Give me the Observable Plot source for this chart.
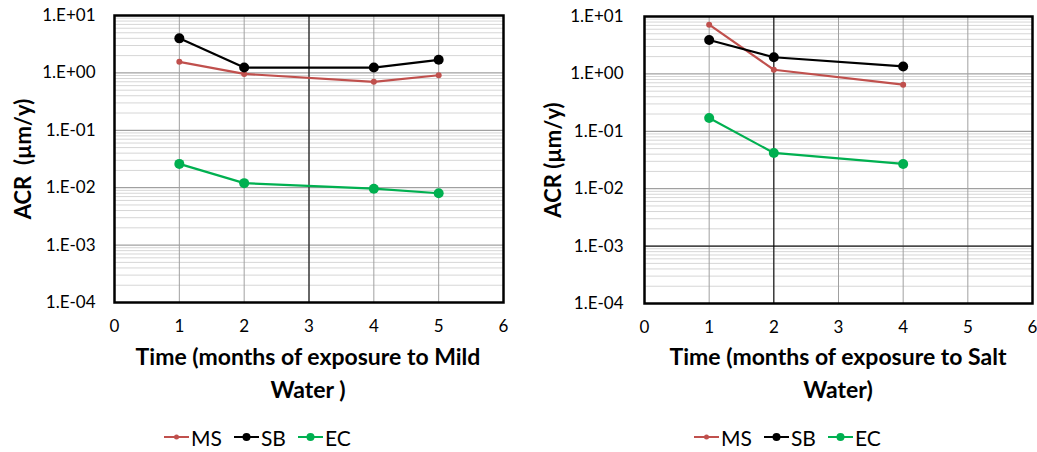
<!DOCTYPE html>
<html><head><meta charset="utf-8">
<script src="https://cdn.jsdelivr.net/npm/d3@7"></script>
<script src="https://cdn.jsdelivr.net/npm/@observablehq/plot@0.6"></script>
<style>
body{margin:0;background:#fff;font-family:Lato,"Open Sans",sans-serif;}
#wrap{position:relative;width:1037px;height:452px;overflow:hidden;}
.panel{position:absolute;top:0;overflow:visible;}
.xtitle{position:absolute;width:460px;font-weight:bold;font-size:23px;text-align:center;line-height:33px;color:#000;white-space:nowrap;}
.legend{position:absolute;display:flex;align-items:center;font-size:21px;color:#000;height:26px;}
.legend .item{display:flex;align-items:center;margin-right:12px;}
.legend svg{margin-right:2px;}
</style>
</head><body>
<div id="wrap"></div>
<script>
// ---- data ----
const seriesNames = ["MS", "SB", "EC"];
const seriesColors = ["#C0504D", "#000000", "#00B050"];
const seriesRadius = [3, 5, 5];

const mildMonths = [1, 2, 4, 5];
const mildMS = [1.56, 0.96, 0.70, 0.91];
const mildSB = [4.0, 1.24, 1.24, 1.69];
const mildEC = [0.026, 0.012, 0.0096, 0.008];

const saltMonths = [1, 2, 4];
const saltMS = [7.2, 1.18, 0.65];
const saltSB = [3.9, 1.95, 1.35];
const saltEC = [0.17, 0.042, 0.027];

const xTicks = [0, 1, 2, 3, 4, 5, 6];
const yTicks = [1e-4, 1e-3, 1e-2, 1e-1, 1, 10];
const yTickLabels = ["1.E-04", "1.E-03", "1.E-02", "1.E-01", "1.E+00", "1.E+01"];
const minorMultipliers = [2, 3, 4, 5, 6, 7, 8, 9];

const mildYLabel = "ACR  (µm/y)";
const saltYLabel = "ACR (µm/y)";
const mildTitle = ["Time (months of exposure to Mild", "Water )"];
const saltTitle = ["Time (months of exposure to Salt", "Water)"];

// ---- build ----
const minorTicks = [];
yTicks.slice(0, -1).forEach(d => minorMultipliers.forEach(m => minorTicks.push(d * m)));

function table(months, ms, sb, ec) {
  const rows = [];
  [ms, sb, ec].forEach((arr, k) => arr.forEach((v, i) => rows.push({series: seriesNames[k], month: months[i], value: v})));
  return rows;
}

function panel(rows, opts) {
  const marks = [
    Plot.ruleY(minorTicks, {stroke: "#d6d6d6", strokeWidth: 1}),
    Plot.ruleY(yTicks, {stroke: "#8a8a8a", strokeWidth: 1}),
    Plot.ruleX(xTicks, {stroke: "#a0a0a0", strokeWidth: 1}),
    Plot.ruleX(opts.darkX, {stroke: "#000", strokeWidth: 1}),
    Plot.ruleY(opts.darkY, {stroke: "#000", strokeWidth: 1}),
    Plot.frame({stroke: "#000", strokeWidth: 2.5}),
    Plot.axisX({ticks: xTicks, tickFormat: d => String(d), tickSize: 0, tickPadding: 17, label: null, fontSize: 17}),
    Plot.axisY({ticks: yTicks, tickFormat: d => yTickLabels[yTicks.indexOf(d)], tickSize: 0, tickPadding: opts.pad, label: null, fontSize: 17}),
    Plot.text([opts.yLabel], {frameAnchor: "left", textAnchor: "middle", lineAnchor: "middle", rotate: -90, dx: -91, fontWeight: "bold", fontSize: 22, fill: "#000"})
  ];
  seriesNames.forEach((s, k) => {
    const data = rows.filter(r => r.series === s);
    marks.push(Plot.line(data, {x: "month", y: "value", stroke: seriesColors[k], strokeWidth: 2.2}));
    marks.push(Plot.dot(data, {x: "month", y: "value", fill: seriesColors[k], r: seriesRadius[k]}));
  });
  return Plot.plot({
    width: opts.width, height: 340,
    marginLeft: 114, marginRight: opts.mr, marginTop: opts.mt, marginBottom: 340 - opts.bottom,
    x: {domain: [0, 6]},
    y: {type: "log", domain: [1e-4, 10]},
    style: {fontFamily: "Lato, 'Open Sans', sans-serif", color: "#000", background: "transparent", overflow: "visible"},
    marks
  });
}

function legendEl(left) {
  const div = document.createElement("div");
  div.className = "legend";
  div.style.left = left + "px";
  div.style.top = "424px";
  seriesNames.forEach((s, k) => {
    const it = document.createElement("div");
    it.className = "item";
    const r = k === 0 ? 2.5 : 4;
    it.innerHTML = `<svg width="25" height="12"><line x1="0" x2="25" y1="6" y2="6" stroke="${seriesColors[k]}" stroke-width="2"/><circle cx="12.5" cy="6" r="${r}" fill="${seriesColors[k]}"/></svg><span>${s}</span>`;
    div.appendChild(it);
  });
  return div;
}

function titleEl(center, lines) {
  const d = document.createElement("div");
  d.className = "xtitle";
  d.style.left = (center - 230) + "px";
  d.style.top = "340px";
  d.innerHTML = lines.join("<br>");
  return d;
}

const wrap = document.getElementById("wrap");

const p1 = panel(table(mildMonths, mildMS, mildSB, mildEC), {width: 518, mr: 15, mt: 15, bottom: 302, pad: 19, darkX: [3], darkY: [], yLabel: mildYLabel});
p1.classList.add("panel"); p1.style.left = "0px";
wrap.appendChild(p1);

const p2 = panel(table(saltMonths, saltMS, saltSB, saltEC), {width: 507, mr: 5, mt: 16, bottom: 303, pad: 21, darkX: [2], darkY: [1e-3], yLabel: saltYLabel});
p2.classList.add("panel"); p2.style.left = "530px";
wrap.appendChild(p2);

wrap.appendChild(titleEl(308, mildTitle));
wrap.appendChild(titleEl(838, saltTitle));
wrap.appendChild(legendEl(164));
wrap.appendChild(legendEl(694));
</script>
</body></html>
